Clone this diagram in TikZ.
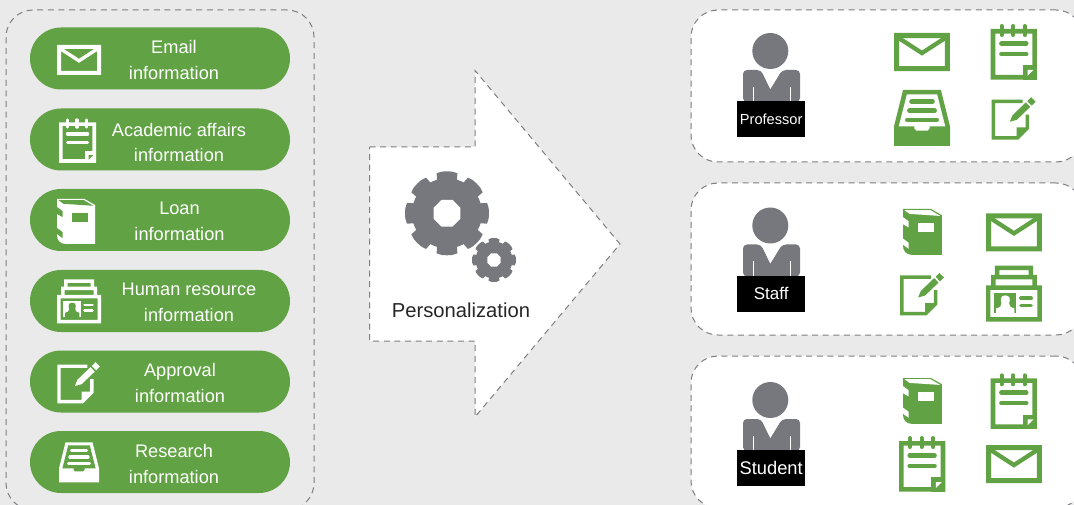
\documentclass[tikz,border=0pt]{standalone}
\usepackage{fontspec}
\setmainfont{Liberation Sans}
\definecolor{bggray}{HTML}{EAEAEA}
\definecolor{leaf}{HTML}{61A344}
\definecolor{dashgray}{HTML}{7E7E83}
\definecolor{slate}{HTML}{77787D}
\tikzset{
  x=1pt,y=-1pt,
  dashline/.style={draw=dashgray,line width=1pt,dash pattern=on 6pt off 4.6pt},
  panel/.style={dashline,rounded corners=27pt,inner sep=0,outer sep=0,anchor=north west},
  pill/.style={fill=leaf,rounded corners=31pt,minimum width=260pt,minimum height=62pt,inner sep=0,outer sep=0},
  pilltext/.style={text=white,align=center,inner sep=0,font=\fontsize{18.2}{25.6}\selectfont},
  tag/.style={fill=black,text=white,minimum width=68pt,minimum height=36pt,inner sep=0,anchor=north west},
  lw/.style={line width=#1pt*\ics},
  round/.style={line cap=round},
}
% icon frame: x y scale fg bg
\newcommand\iconopen[5]{\begin{scope}[shift={(#1,#2)},scale=#3]\def\ics{#3}\colorlet{fgc}{#4}\colorlet{bgc}{#5}}
\newcommand\iconenvelope[5]{\iconopen{#1}{#2}{#3}{#4}{#5}
  \fill[fgc,even odd rule] (0,0) rectangle (44,30) (4,4) rectangle (40,26);
  \draw[fgc,lw=3.4,line join=miter] (1,2.2) -- (22,15.8) -- (43,2.2);
\end{scope}}
\newcommand\iconnotepad[5]{\iconopen{#1}{#2}{#3}{#4}{#5}
  \fill[fgc,even odd rule] (0,4) rectangle (37,44.5) (3.7,7.7) rectangle (33.3,40.8);
  \fill[fgc] (25.5,33) rectangle (37,44.5);
  \fill[bgc] (29.5,41.5) -- (29.5,36.8) -- (34.2,36.8) -- cycle;
  \foreach \rx in {8.7,18,27.3} \draw[fgc,lw=3.2,round] (\rx,1.6) -- (\rx,8.8);
  \draw[fgc,lw=3.5,round] (8.5,15.5) -- (28.5,15.5) (8.5,24) -- (28.5,24);
\end{scope}}
\newcommand\iconbook[5]{\iconopen{#1}{#2}{#3}{#4}{#5}
  \fill[fgc] (0,0) -- (27.5,0) -- (38,6) -- (38,45) -- (9,45) .. controls (3,45) and (0,41) .. (0,36) -- cycle;
  \fill[bgc] (1.5,1.2) -- (27,1.2) -- (36.5,6.8) -- (6.5,4.8) -- cycle;
  \fill[bgc] (0,8) -- (5.5,12) -- (5.5,18) -- (0,15) -- cycle;
  \fill[bgc] (0,29) -- (5.5,33) -- (5.5,39) -- (0,35) -- cycle;
  \fill[bgc] (14.7,14) rectangle (30.7,22.7);
\end{scope}}
\newcommand\iconcard[5]{\iconopen{#1}{#2}{#3}{#4}{#5}
  \fill[fgc,even odd rule] (0,15.5) rectangle (44,44) (3.5,19) rectangle (40.5,40.5);
  \fill[fgc,even odd rule] (4,7.3) rectangle (40,16) (7.5,10.8) rectangle (36.5,16);
  \fill[fgc,even odd rule] (7,0) rectangle (37,8) (10.5,3.5) rectangle (33.5,8);
  \fill[fgc] (6.3,21.7) rectangle (24,37.5);
  \fill[bgc] (15.2,23.4) .. controls (11.5,23.4) and (11,26.5) .. (12.2,29.5) .. controls (12.6,31.5) and (11,33) .. (8,33.6) -- (8,37.5) -- (22.4,37.5) -- (22.4,33.6) .. controls (19.4,33) and (17.8,31.5) .. (18.2,29.5) .. controls (19.4,26.5) and (18.9,23.4) .. (15.2,23.4) -- cycle;
  \draw[fgc,lw=2.9,round] (27.5,25.7) -- (35.5,25.7) (27.5,31.4) -- (35.5,31.4);
\end{scope}}
\newcommand\iconnote[5]{\iconopen{#1}{#2}{#3}{#4}{#5}
  \draw[fgc,lw=3.4,line join=miter] (30,5.2) -- (1.7,5.2) -- (1.7,40.6) -- (25,40.6) -- (34.6,31) -- (34.6,18);
  \fill[fgc] (24.3,41.5) -- (24.3,30.5) -- (35.5,30.5) -- cycle;
  \fill[fgc] (17.6,25) -- (20.2,18.7) -- (33.2,6.2) -- (37.4,10.6) -- (24.4,23.1) -- cycle;
  \fill[fgc] (34.6,5) -- (38.2,1.2) -- (42.6,5.5) -- (38.8,9.3) -- cycle;
\end{scope}}
\newcommand\icontray[5]{\iconopen{#1}{#2}{#3}{#4}{#5}
  \fill[fgc] (6.5,0) -- (33.5,0) -- (40,26) -- (40,40) -- (0,40) -- (0,26) -- cycle;
  \fill[bgc] (9.2,3.1) -- (30.8,3.1) -- (36.6,26) -- (25.5,26) -- (25.5,27.5) -- (24,29) -- (16,29) -- (14.5,27.5) -- (14.5,26) -- (3.4,26) -- cycle;
  \draw[fgc,lw=3.3,round] (12.5,8.3) -- (27.5,8.3) (11,14.8) -- (29,14.8) (9.5,21.4) -- (30.5,21.4);
\end{scope}}
% person: head centre offset dy, label, font size
\newcommand\personat[4]{%
  \begin{scope}[yshift=-#1pt]
    \fill[slate,rounded corners=4pt] (743,102) -- (743,70) -- (761,70) -- (770.3,89) -- (782,70) -- (800,70) -- (800,102) -- cycle;
    \fill[white] (761,69.5) -- (770.3,89) -- (782,69.5) -- (778,69) -- (764,69) -- cycle;
    \fill[slate] (770.3,51) circle[radius=18];
    \draw[white,line width=0.9pt] (753,87) -- (753,102) (790,87) -- (790,102);
    \node[tag,font=\fontsize{#4}{#4}\selectfont] (#3) at (737,101) {#2};
  \end{scope}}
\newcommand\gearat[5]{%
  \begin{scope}[shift={(#1,#2)}]
    \fill[slate] (0,0) circle[radius=#4];
    \foreach \ga in {0,45,...,315}
      \fill[slate] (\ga-17:#4-1) -- (\ga-14.5:#3-0.6) -- (\ga-7:#3) -- (\ga:#3) -- (\ga+7:#3) -- (\ga+14.5:#3-0.6) -- (\ga+17:#4-1) -- cycle;
    \fill[white] (22.5:#5) -- (67.5:#5) -- (112.5:#5) -- (157.5:#5) -- (202.5:#5) -- (247.5:#5) -- (292.5:#5) -- (337.5:#5) -- cycle;
  \end{scope}}
\begin{document}
\begin{tikzpicture}
\useasboundingbox (0,0) rectangle (1074,505);
\fill[bggray] (0,0) rectangle (1074,505);
\clip (0,0) rectangle (1074,505);
% left panel
\node[panel,minimum width=308pt,minimum height=500pt] (leftpanel) at (6,10) {};
% pills
\node[pill] (p1) at (160,58.5) {};
\node[pill] (p2) at (160,139.5) {};
\node[pill] (p3) at (160,220) {};
\node[pill] (p4) at (160,301) {};
\node[pill] (p5) at (160,381.5) {};
\node[pill] (p6) at (160,462) {};
\node[pilltext] (t1) at (174,60) {Email\\information};
\node[pilltext] (t2) at (179,142.5) {Academic affairs\\information};
\node[pilltext] (t3) at (179.5,221.5) {Loan\\information};
\node[pilltext] (t4) at (189,302.5) {Human resource\\information};
\node[pilltext] (t5) at (180,383) {Approval\\information};
\node[pilltext] (t6) at (174,464) {Research\\information};
\iconenvelope{57}{45}{1}{white}{leaf}
\iconnotepad{59}{118.3}{1}{white}{leaf}
\iconbook{57}{199}{1}{white}{leaf}
\iconcard{57}{279.3}{1}{white}{leaf}
\iconnote{57.3}{361}{1}{white}{leaf}
\icontray{59}{442.3}{1}{white}{leaf}
% arrow
\path[fill=white,dashline] (369.5,147) -- (475,147) -- (475,70.5) -- (620,244) -- (475,417) -- (475,341) -- (369.5,341) -- cycle;
\gearat{447}{213.3}{42}{35}{14.5}
\gearat{494}{260}{22}{18.5}{7.2}
\node[text=black!85,inner sep=0,font=\fontsize{20.2}{24}\selectfont] (pers) at (461,310) {Personalization};
% right panels
\node[panel,fill=white,minimum width=392pt,minimum height=152pt] (rp1) at (691,10) {};
\node[panel,fill=white,minimum width=392pt,minimum height=152pt] (rp2) at (691,183) {};
\node[panel,fill=white,minimum width=392pt,minimum height=152pt] (rp3) at (691,356) {};
\personat{0}{Professor}{prof}{14.6}
\personat{174.5}{Staff}{staff}{17}
\personat{349}{Student}{stud}{18.3}
\iconenvelope{894}{33}{1.27}{leaf}{white}
\iconnotepad{990.7}{24}{1.25}{leaf}{white}
\icontray{894}{90}{1.4}{leaf}{white}
\iconnote{991.7}{96}{1.03}{leaf}{white}
\iconbook{903}{209}{1.02}{leaf}{white}
\iconenvelope{986}{213.3}{1.27}{leaf}{white}
\iconnote{900}{271.7}{1.03}{leaf}{white}
\iconcard{986}{265.7}{1.27}{leaf}{white}
\iconbook{903}{378}{1.02}{leaf}{white}
\iconnotepad{990.7}{373.3}{1.25}{leaf}{white}
\iconnotepad{899}{436}{1.25}{leaf}{white}
\iconenvelope{986}{445}{1.27}{leaf}{white}
\end{tikzpicture}
\end{document}
